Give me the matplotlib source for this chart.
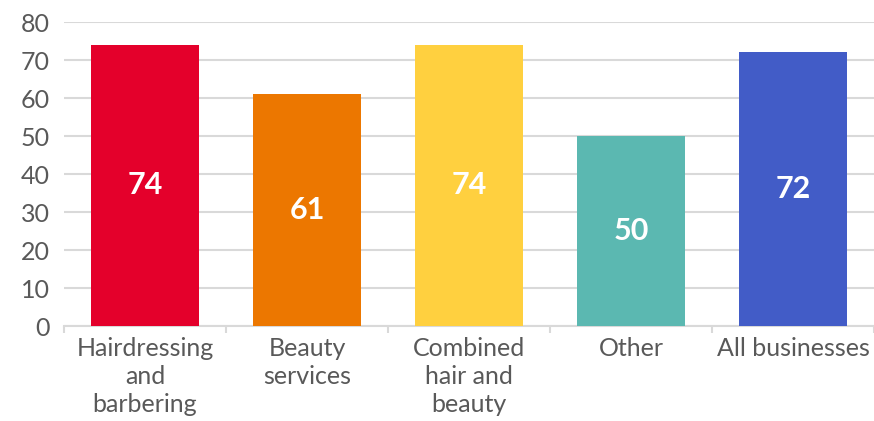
import numpy as np
import matplotlib
matplotlib.use("Agg")
import matplotlib.pyplot as plt

plt.rcParams['font.family'] = ['Lato', 'DejaVu Sans']

categories = ["Hairdressing\nand\nbarbering", "Beauty\nservices", "Combined\nhair and\nbeauty", "Other", "All businesses"]
values = [74, 61, 74, 50, 72]
colors = ["#E4002B", "#EC7700", "#FFD03F", "#5BB8B1", "#425CC7"]

fig = plt.figure(figsize=(8.74, 4.21), dpi=100)
ax = fig.add_axes([64/874, 1 - 326/421, 1 - 64/874, (326 - 22)/421])

x = np.arange(len(categories))
bars = ax.bar(x, values, width=0.67, color=colors, zorder=3)
for b, v in zip(bars, values):
    ax.text(b.get_x() + b.get_width()/2, v/2, f"{v:.0f}", ha="center", va="center",
            color="white", fontsize=22, fontweight="bold", zorder=4)

ax.set_xlim(-0.5, len(categories) - 0.5)
ax.set_ylim(0, 80)
ax.set_yticks(range(0, 81, 10))
ax.yaxis.grid(True, color="#D9D9D9", linewidth=1.5, zorder=0)
for s in ["top", "right", "left"]:
    ax.spines[s].set_visible(False)
ax.spines["bottom"].set_color("#D9D9D9")
ax.spines["bottom"].set_linewidth(1.5)

# boundary ticks between categories, labels on minor ticks at bar centres
ax.set_xticks(np.arange(len(categories) + 1) - 0.5, minor=False)
ax.set_xticklabels([])
ax.tick_params(axis="x", length=5, color="#D9D9D9", width=1.5)
ax.set_xticks(x, minor=True)
ax.set_xticklabels(categories, minor=True, fontsize=18, color="#595959", linespacing=1.25)
ax.tick_params(axis="x", which="minor", length=0, pad=8)
ax.tick_params(axis="y", length=0, labelsize=18, labelcolor="#595959", pad=10)

fig.savefig("out.png", dpi=100)
